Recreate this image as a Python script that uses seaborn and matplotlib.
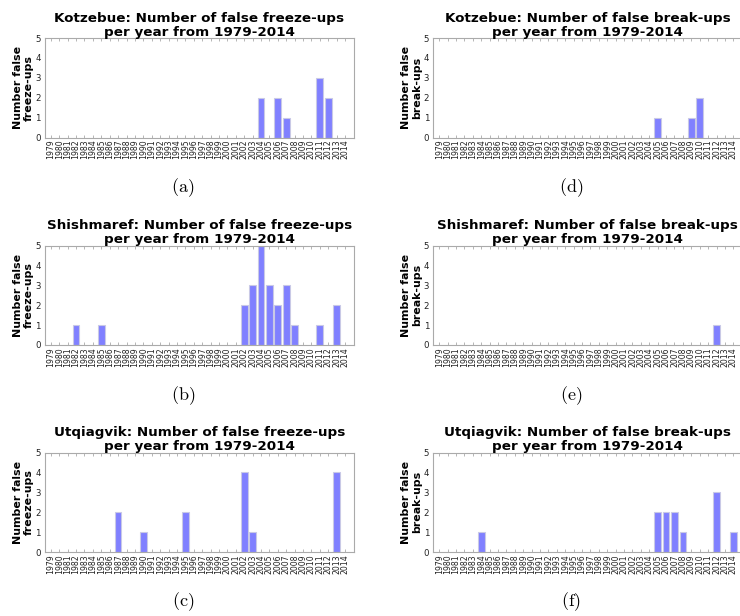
import numpy as np
import pandas as pd
import matplotlib
matplotlib.use('Agg')
import matplotlib.pyplot as plt
import seaborn as sns

# years on the x axis
years = [str(y) for y in range(1979, 2015)]

# counts of false events per year (year -> count, others zero)
kotzebue_freeze = {2004: 2, 2006: 2, 2007: 1, 2011: 3, 2012: 2}
shishmaref_freeze = {1982: 1, 1985: 1, 2002: 2, 2003: 3, 2004: 5, 2005: 3,
                     2006: 2, 2007: 3, 2008: 1, 2011: 1, 2013: 2}
utqiagvik_freeze = {1987: 2, 1990: 1, 1995: 2, 2002: 4, 2003: 1, 2013: 4}
kotzebue_break = {2005: 1, 2009: 1, 2010: 2}
shishmaref_break = {2012: 1}
utqiagvik_break = {1984: 1, 2005: 2, 2006: 2, 2007: 2, 2008: 1, 2012: 3, 2014: 1}

panels = [
    ('Kotzebue', 'freeze-ups', kotzebue_freeze, '(a)'),
    ('Shishmaref', 'freeze-ups', shishmaref_freeze, '(b)'),
    ('Utqiagvik', 'freeze-ups', utqiagvik_freeze, '(c)'),
    ('Kotzebue', 'break-ups', kotzebue_break, '(d)'),
    ('Shishmaref', 'break-ups', shishmaref_break, '(e)'),
    ('Utqiagvik', 'break-ups', utqiagvik_break, '(f)'),
]

sns.set_style('white')
plt.rcParams['font.family'] = ['DejaVu Sans']
plt.rcParams['mathtext.fontset'] = 'cm'
plt.rcParams['text.color'] = 'black'
plt.rcParams['axes.labelcolor'] = 'black'

W, H = 740, 616
fig = plt.figure(figsize=(7.4, 6.16), dpi=100)

# pixel layout of the axes
col_left = [45, 433.3]
row_top = [38, 245.5, 452.5]
ax_w, ax_h = 309, 99.5
cap_x = [183, 571]
cap_y = [188, 396, 602]

for i, (town, kind, counts, tag) in enumerate(panels):
    col, row = i // 3, i % 3
    left = col_left[col]
    top = row_top[row]
    ax = fig.add_axes([left / W, (H - top - ax_h) / H, ax_w / W, ax_h / H])

    df = pd.DataFrame({'year': years,
                       'count': [counts.get(int(y), 0) for y in years]})
    sns.barplot(data=df, x='year', y='count', ax=ax, color='#8080ff',
                saturation=1, width=0.8, edgecolor='#c9c9e6', linewidth=0.8)
    for p in ax.patches:
        if p.get_height() == 0:
            p.set_visible(False)

    ax.set_xlim(-0.7, 36.07)
    ax.set_ylim(0, 5)
    ax.set_yticks(range(0, 6))
    ax.set_title(f'{town}: Number of false {kind}\nper year from 1979-2014',
                 fontsize=9.7, fontweight='bold', pad=1.5, linespacing=1.1,
                 color='black')
    ax.set_xlabel('')
    ax.set_ylabel(f'Number false\n{kind}', fontsize=7.9, fontweight='bold',
                  labelpad=1, linespacing=1.1, color='black')
    ax.tick_params(axis='x', labelsize=5.6, rotation=90, direction='in',
                   length=2, width=0.5, color='#999999', pad=1.5,
                   labelcolor='#222222', top=True, bottom=True)
    ax.tick_params(axis='y', labelsize=6.2, direction='out', length=2,
                   width=0.5, color='#999999', pad=1, labelcolor='#222222')
    for s in ax.spines.values():
        s.set_color('#aaaaaa')
        s.set_linewidth(0.8)

    fig.text(cap_x[col] / W, 1 - cap_y[row] / H, r'$\mathrm{' + tag + '}$',
             ha='center', va='center', fontsize=13)

fig.savefig('out.png', dpi=100)
